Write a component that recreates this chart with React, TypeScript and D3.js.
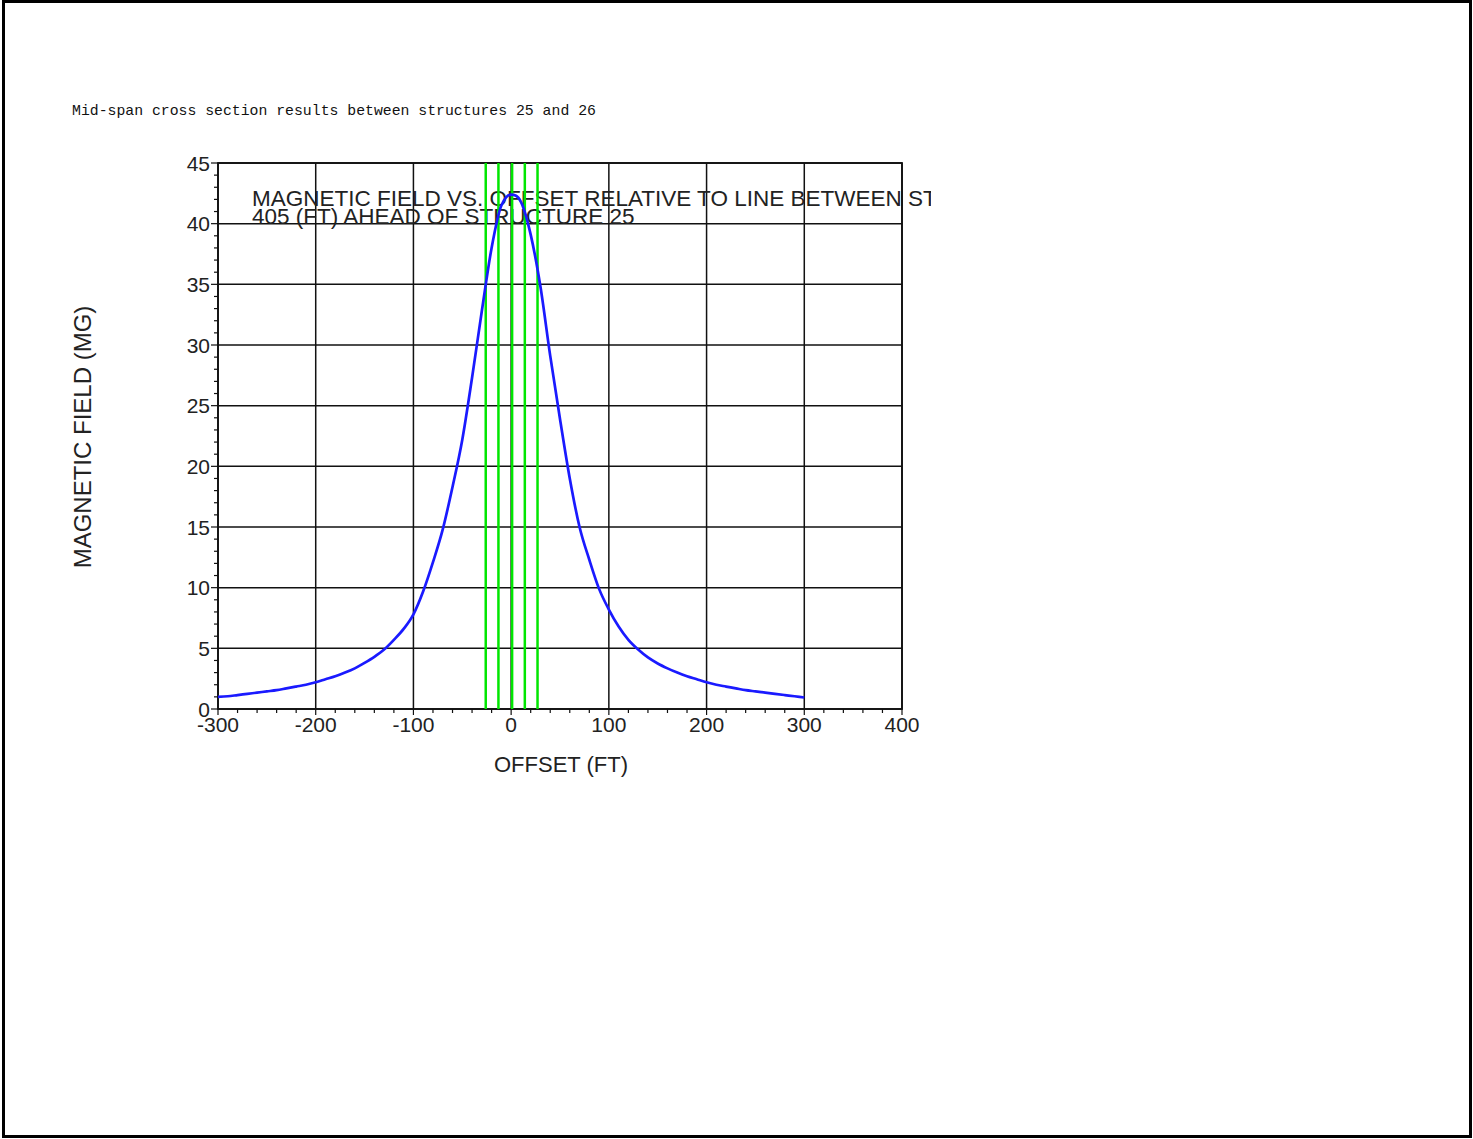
import React, { useEffect, useRef } from 'react'
import * as d3 from 'd3'

// offset from centerline (ft) and calculated field (mG)
const offsets = [
  -300, -290, -280, -270, -260, -250, -240, -230, -220, -210,
  -200, -190, -180, -170, -160, -150, -140, -130, -120, -110,
  -100, -90, -80, -70, -60, -50, -40, -30, -20, -10,
  0, 5, 10, 20, 30, 40, 50, 60, 70, 80, 90,
  100, 110, 120, 130, 140, 150, 160, 170, 180, 190,
  200, 210, 220, 230, 240, 250, 260, 270, 280, 290, 300
]
const fieldMG = [
  1.0, 1.05, 1.15, 1.25, 1.35, 1.45, 1.55, 1.7, 1.85, 2.0,
  2.2, 2.45, 2.7, 3.0, 3.35, 3.8, 4.3, 4.9, 5.7, 6.6,
  7.8, 9.7, 12.1, 14.8, 18.3, 22.2, 27.3, 32.8, 38.0, 41.5,
  42.4, 42.3, 41.8, 39.1, 34.8, 29.1, 23.9, 19.0, 15.0, 12.3, 9.9,
  8.2, 6.8, 5.7, 4.9, 4.25, 3.75, 3.35, 3.0, 2.7, 2.45,
  2.2, 2.0, 1.85, 1.7, 1.55, 1.45, 1.35, 1.25, 1.15, 1.05, 0.95
]
// conductor positions (green markers)
const conductorOffsets = [-26, -13, 1, 14, 27]

const xTicks = [-300, -200, -100, 0, 100, 200, 300, 400]
const yTicks = [0, 5, 10, 15, 20, 25, 30, 35, 40, 45]

const noteText = 'Mid-span cross section results between structures 25 and 26'
const titleLines = [
  'MAGNETIC FIELD VS. OFFSET RELATIVE TO LINE BETWEEN STRUCTURES 25 AND 26',
  '405 (FT) AHEAD OF STRUCTURE 25'
]

const W = 1473
const H = 1139

function FieldChart() {
  const ref = useRef<SVGSVGElement>(null)

  useEffect(() => {
    const svg = d3.select(ref.current)
    svg.selectAll('*').remove()

    const left = 218, right = 902, top = 163, bottom = 709
    const x = d3.scaleLinear().domain([-300, 400]).range([left, right])
    const y = d3.scaleLinear().domain([0, 45]).range([bottom, top])
    const font = 'Arial, "Liberation Sans", sans-serif'

    // page frame
    svg.append('rect')
      .attr('x', 3.5).attr('y', 1.5)
      .attr('width', W - 6).attr('height', H - 4)
      .attr('fill', 'white')
      .attr('stroke', '#000').attr('stroke-width', 3)

    svg.append('text')
      .attr('x', 72).attr('y', 115)
      .style('font-family', '"Liberation Mono", "Courier New", monospace')
      .style('font-size', '14.8px')
      .attr('fill', '#111')
      .text(noteText)

    // grid
    const g = svg.append('g')
    g.selectAll('line.vg').data(xTicks).join('line')
      .attr('class', 'vg')
      .attr('x1', d => x(d)).attr('x2', d => x(d))
      .attr('y1', top).attr('y2', bottom)
      .attr('stroke', '#111').attr('stroke-width', 1.5)
    g.selectAll('line.hg').data(yTicks).join('line')
      .attr('class', 'hg')
      .attr('x1', left).attr('x2', right)
      .attr('y1', d => y(d)).attr('y2', d => y(d))
      .attr('stroke', '#111').attr('stroke-width', 1.5)

    // minor ticks
    const yMinor = d3.range(0, 46, 1)
    g.selectAll('line.ym').data(yMinor).join('line')
      .attr('class', 'ym')
      .attr('x1', d => left - (d % 5 === 0 ? 7 : 4)).attr('x2', left)
      .attr('y1', d => y(d)).attr('y2', d => y(d))
      .attr('stroke', '#111').attr('stroke-width', 1.2)
    const xMinor = d3.range(-300, 401, 20)
    g.selectAll('line.xm').data(xMinor).join('line')
      .attr('class', 'xm')
      .attr('x1', d => x(d)).attr('x2', d => x(d))
      .attr('y1', bottom).attr('y2', d => bottom + (d % 100 === 0 ? 6 : 4))
      .attr('stroke', '#111').attr('stroke-width', 1.2)

    // axes frame
    g.append('rect')
      .attr('x', left).attr('y', top)
      .attr('width', right - left).attr('height', bottom - top)
      .attr('fill', 'none').attr('stroke', '#111').attr('stroke-width', 1.8)

    // tick labels
    g.selectAll('text.yl').data(yTicks).join('text')
      .attr('class', 'yl')
      .attr('x', left - 8).attr('y', d => y(d) + 7.5)
      .attr('text-anchor', 'end')
      .style('font-family', font).style('font-size', '21px')
      .attr('fill', '#222')
      .text(d => d)
    g.selectAll('text.xl').data(xTicks).join('text')
      .attr('class', 'xl')
      .attr('x', d => x(d)).attr('y', bottom + 23)
      .attr('text-anchor', 'middle')
      .style('font-family', font).style('font-size', '21px')
      .attr('fill', '#222')
      .text(d => d)

    // axis titles
    svg.append('text')
      .attr('transform', `translate(91,437) rotate(-90)`)
      .attr('text-anchor', 'middle')
      .style('font-family', font).style('font-size', '24px')
      .attr('fill', '#222')
      .text('MAGNETIC FIELD (MG)')
    svg.append('text')
      .attr('x', 561).attr('y', 772)
      .attr('text-anchor', 'middle')
      .style('font-family', font).style('font-size', '22px')
      .attr('fill', '#222')
      .text('OFFSET (FT)')

    // chart title, clipped at the right like the original
    svg.append('clipPath').attr('id', 'titleclip')
      .append('rect').attr('x', 0).attr('y', 0).attr('width', 931).attr('height', H)
    svg.append('g').attr('clip-path', 'url(#titleclip)')
      .selectAll('text').data(titleLines).join('text')
      .attr('x', 252).attr('y', (d, i) => 206 + i * 18)
      .style('font-family', font).style('font-size', '22.5px')
      .attr('fill', '#222')
      .text(d => d)

    // conductor lines
    svg.selectAll('line.cond').data(conductorOffsets).join('line')
      .attr('class', 'cond')
      .attr('x1', d => x(d)).attr('x2', d => x(d))
      .attr('y1', top).attr('y2', bottom)
      .attr('stroke', '#00e600').attr('stroke-width', 2.5)

    // field profile
    const line = d3.line<number>()
      .x((d, i) => x(offsets[i]))
      .y(d => y(d))
      .curve(d3.curveMonotoneX)
    svg.append('path')
      .datum(fieldMG)
      .attr('d', line)
      .attr('fill', 'none')
      .attr('stroke', '#1a1aff').attr('stroke-width', 2.7)
  }, [])

  return <svg ref={ref} width={W} height={H} style={{ display: 'block' }} />
}

export default function App() {
  return (
    <div style={{ position: 'absolute', left: 0, top: 0 }}>
      <FieldChart />
    </div>
  )
}
